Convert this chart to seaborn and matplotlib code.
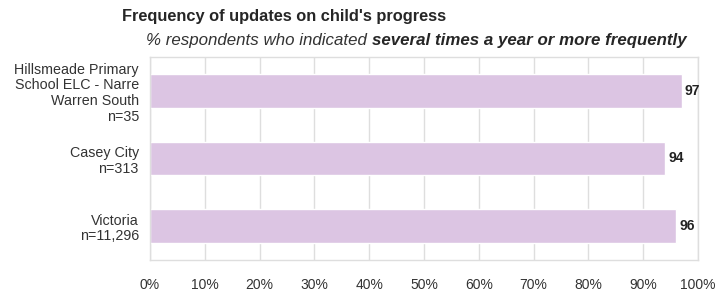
import matplotlib.pyplot as plt
import seaborn as sns
import pandas as pd

# chart data
groups = ['Hillsmeade Primary\nSchool ELC - Narre\nWarren South\nn=35',
          'Casey City\nn=313',
          'Victoria\nn=11,296']
values = [97, 94, 96]
ticks = list(range(0, 101, 10))
tick_labels = [f'{t}%' for t in ticks]

df = pd.DataFrame({'group': groups, 'value': values})

sns.set_style('white')
plt.rcParams['font.family'] = ['Liberation Sans', 'DejaVu Sans']

fig = plt.figure(figsize=(7.17, 2.98), dpi=100)
ax = fig.add_axes([150 / 717, 38 / 298, 548 / 717, 203 / 298])

sns.barplot(data=df, x='value', y='group', color='#dcc5e3', width=0.5,
            saturation=1, ax=ax)

ax.set_xlim(0, 100)
ax.set_xticks(ticks)
ax.set_xticklabels(tick_labels, fontsize=10, color='#333333')
ax.tick_params(axis='x', length=4, color='#d9d9d9', pad=9)
ax.tick_params(axis='y', length=0, labelsize=10.3, pad=8)
for lbl in ax.get_yticklabels():
    lbl.set_color('#333333')
    lbl.set_multialignment('right')
    lbl.set_linespacing(1.15)
ax.grid(axis='x', color='#dedede', linewidth=1)
ax.set_axisbelow(True)
for s in ax.spines.values():
    s.set_color('#dedede')
    s.set_linewidth(1)
ax.set_xlabel('')
ax.set_ylabel('')

# value labels
for i, v in enumerate(values):
    ax.text(v + 0.6, i, str(v), va='center', ha='left', fontsize=10,
            fontweight='bold', color='#222222')

# titles
fig.text(122 / 717, 1 - 17 / 298, "Frequency of updates on child's progress",
         fontsize=11.8, fontweight='bold', va='center', ha='left')
t1 = fig.text(146 / 717, 1 - 41 / 298, '% respondents who indicated ',
              fontsize=12.2, style='italic', va='center', ha='left', color='#333333')
fig.canvas.draw()
bb = t1.get_window_extent()
fig.text(bb.x1 / fig.bbox.width, 1 - 41 / 298, 'several times a year or more frequently',
         fontsize=12.2, style='italic', fontweight='bold', va='center', ha='left')

fig.savefig('out.png', dpi=100)
